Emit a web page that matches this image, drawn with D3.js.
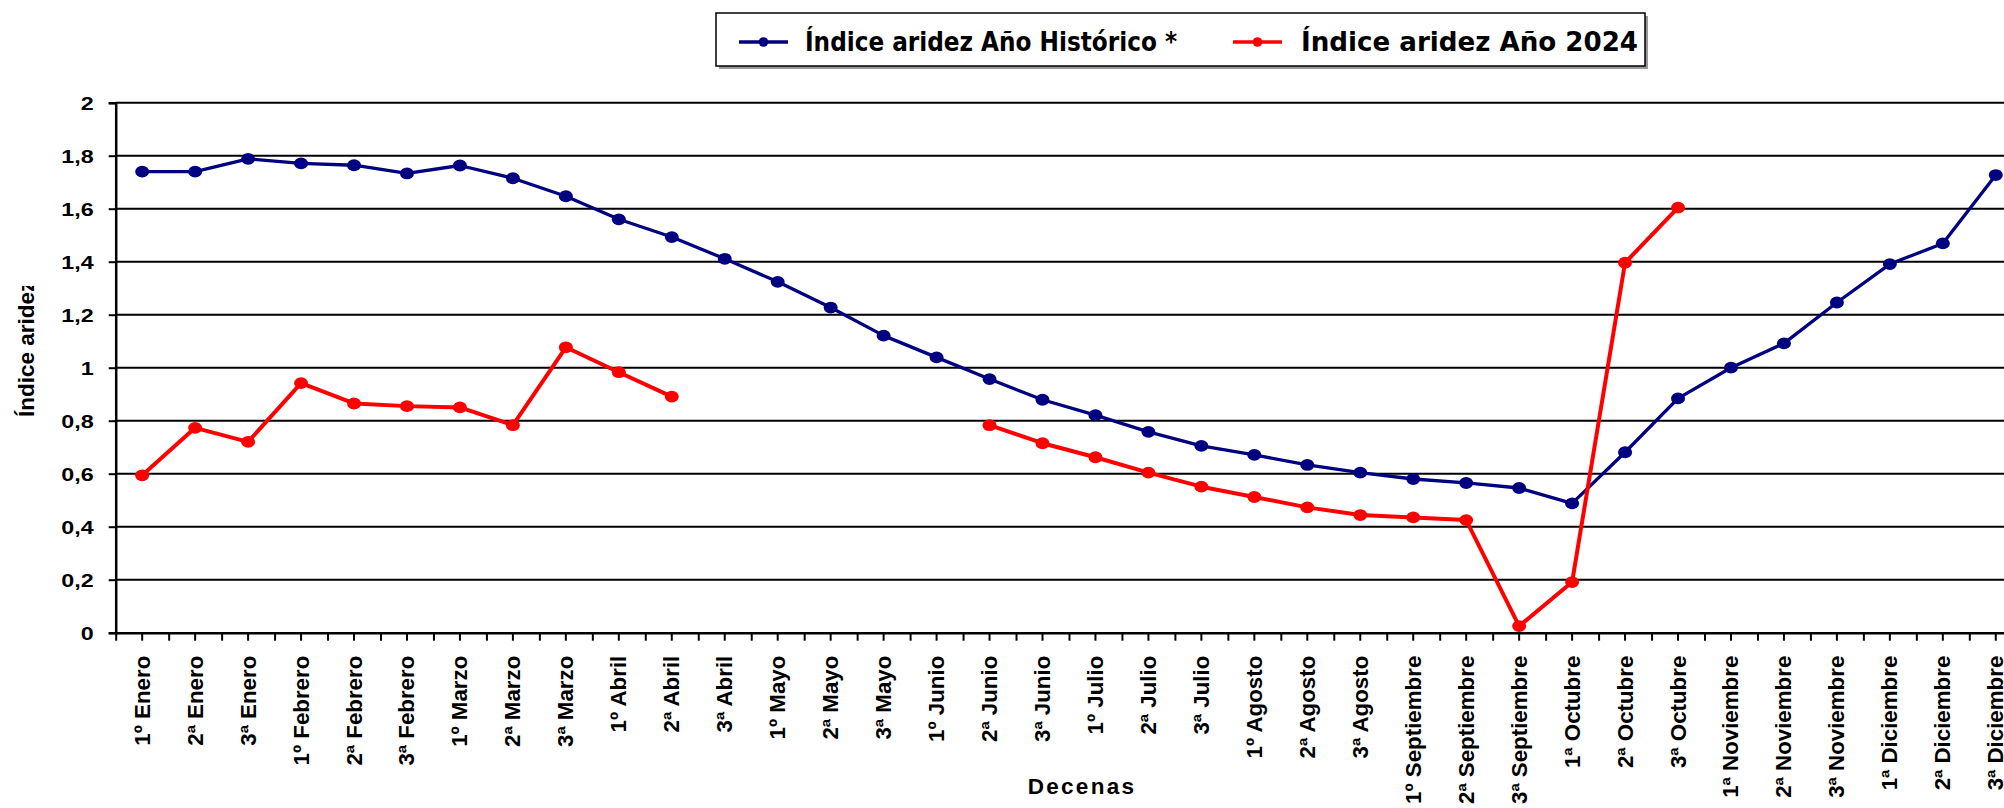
<!DOCTYPE html>
<html>
<head>
<meta charset="utf-8">
<script src="https://cdn.jsdelivr.net/npm/d3@7"></script>
<style>
  html, body { margin: 0; padding: 0; background: #fff; }
  svg { display: block; }
  text { font-family: "Liberation Sans", Arial, sans-serif; font-weight: bold; fill: #000; }
</style>
</head>
<body>
<svg id="chart" width="2004" height="808"></svg>
<script>
const categories = ["1º Enero","2ª Enero","3ª Enero","1º Febrero","2ª Febrero","3ª Febrero","1º Marzo","2ª Marzo","3ª Marzo","1º Abril","2ª Abril","3ª Abril","1º Mayo","2ª Mayo","3ª Mayo","1º Junio","2ª Junio","3ª Junio","1º Julio","2ª Julio","3ª Julio","1º Agosto","2ª Agosto","3ª Agosto","1º Septiembre","2ª Septiembre","3ª Septiembre","1ª Octubre","2ª Octubre","3ª Octubre","1ª Noviembre","2ª Noviembre","3ª Noviembre","1ª Diciembre","2ª Diciembre","3ª Diciembre"];

const historico = [1.740,1.740,1.788,1.771,1.764,1.733,1.763,1.715,1.647,1.560,1.493,1.411,1.324,1.227,1.121,1.039,0.957,0.879,0.821,0.758,0.705,0.671,0.633,0.604,0.580,0.565,0.546,0.488,0.681,0.884,1.000,1.092,1.246,1.391,1.469,1.727];

const anio2024 = [0.594,0.773,0.720,0.942,0.865,0.855,0.850,0.783,1.077,0.983,0.891,null,null,null,null,null,0.783,0.715,0.662,0.604,0.551,0.512,0.473,0.444,0.435,0.425,0.025,0.191,1.396,1.604,null,null,null,null,null,null];

const yTicks = [0,0.2,0.4,0.6,0.8,1,1.2,1.4,1.6,1.8,2];
const yTickLabels = ["0","0,2","0,4","0,6","0,8","1","1,2","1,4","1,6","1,8","2"];

const seriesNames = ["Índice aridez Año Histórico *", "Índice aridez Año 2024"];
const seriesColors = ["#000080", "#ff0000"];
const yTitle = "Índice aridez";
const xTitle = "Decenas";

(function () {
const svg = d3.select("#chart");
const pLeft = 115.7, pTop = 102.7, pBottom = 632.7, band = 52.96;
const pRight = pLeft + band * categories.length;
const SX = 1.24;

const x = d3.scaleBand().domain(categories).range([pLeft, pRight]).padding(0);
const y = d3.scaleLinear().domain([0, 2]).range([pBottom, pTop]);
const cx = d => x(d) + x.bandwidth() / 2;

// gridlines
svg.append("g").selectAll("line").data(yTicks.slice(1)).join("line")
  .attr("x1", pLeft).attr("x2", 2004)
  .attr("y1", d => y(d)).attr("y2", d => y(d))
  .attr("stroke", "#000").attr("stroke-width", 2);

// y axis
const yAxis = svg.append("g").attr("transform", `translate(${pLeft},0)`)
  .call(d3.axisLeft(y).tickValues(yTicks).tickSize(7).tickFormat((d, i) => yTickLabels[i]));
yAxis.select(".domain").attr("stroke", "#000").attr("stroke-width", 2.5);
yAxis.selectAll(".tick line").attr("stroke", "#000").attr("stroke-width", 2);
yAxis.selectAll(".tick text")
  .attr("x", null).attr("dy", null)
  .attr("font-size", 18.8)
  .attr("text-anchor", "end")
  .attr("dominant-baseline", "central")
  .attr("transform", "translate(-22,0) scale(" + SX + ",1)");

// x axis boundary ticks
const xb = d3.scaleLinear().domain([0, categories.length]).range([pLeft, pRight]);
const xBound = svg.append("g").attr("transform", `translate(0,${pBottom})`)
  .call(d3.axisBottom(xb).tickValues(d3.range(0, categories.length + 1)).tickSize(8).tickFormat(""));
xBound.select(".domain").remove();
xBound.selectAll(".tick line").attr("stroke", "#000").attr("stroke-width", 2);

// x axis with center ticks + labels
const xAxis = svg.append("g").attr("transform", `translate(0,${pBottom})`)
  .call(d3.axisBottom(x).tickSize(8).tickSizeOuter(0));
xAxis.select(".domain").attr("stroke", "#000").attr("stroke-width", 2.5);
xAxis.selectAll(".tick line").attr("stroke", "#000").attr("stroke-width", 2);
xAxis.selectAll(".tick text")
  .attr("y", null).attr("dy", null)
  .attr("font-size", 22.3)
  .attr("text-anchor", "end")
  .attr("dominant-baseline", "central")
  .attr("transform", "translate(0,23) rotate(-90)");

// lines
const line = d3.line().defined(d => d.v != null).x(d => cx(d.c)).y(d => y(d.v));
const allSeries = [historico, anio2024];
allSeries.forEach((vals, si) => {
  const data = categories.map((c, i) => ({c, v: vals[i]}));
  svg.append("path").datum(data)
    .attr("fill", "none").attr("stroke", seriesColors[si])
    .attr("stroke-width", si === 0 ? 3.3 : 4)
    .attr("stroke-linejoin", "round")
    .attr("d", line);
  svg.append("g").selectAll("ellipse").data(data.filter(d => d.v != null)).join("ellipse")
    .attr("cx", d => cx(d.c)).attr("cy", d => y(d.v))
    .attr("rx", 7).attr("ry", 5.9)
    .attr("fill", seriesColors[si]);
});

// axis titles
svg.append("defs").append("clipPath").attr("id", "ytclip")
  .append("rect").attr("x", 0).attr("y", 286).attr("width", 60).attr("height", 300);
svg.append("g").attr("clip-path", "url(#ytclip)")
  .append("text")
  .attr("font-size", 22.5)
  .attr("text-anchor", "start")
  .attr("dominant-baseline", "central")
  .attr("transform", "translate(26,417) rotate(-90)")
  .text(yTitle);

svg.append("text")
  .attr("font-size", 22.5)
  .attr("text-anchor", "middle")
  .attr("dominant-baseline", "central")
  .attr("letter-spacing", 2.3)
  .attr("transform", "translate(1082,786)")
  .text(xTitle);

// legend
const lg = svg.append("g");
lg.append("rect").attr("x", 719).attr("y", 16).attr("width", 929).attr("height", 53).attr("fill", "#999");
lg.append("rect").attr("x", 716).attr("y", 13).attr("width", 929).attr("height", 53)
  .attr("fill", "#fff").attr("stroke", "#000").attr("stroke-width", 1.5);
const legendItems = [
  {name: seriesNames[0], color: seriesColors[0], lx: 739, tx: 805, tw: 372},
  {name: seriesNames[1], color: seriesColors[1], lx: 1233, tx: 1301, tw: 337}
];
legendItems.forEach(it => {
  lg.append("line").attr("x1", it.lx).attr("x2", it.lx + 49).attr("y1", 42).attr("y2", 42)
    .attr("stroke", it.color).attr("stroke-width", 3.4);
  lg.append("circle").attr("cx", it.lx + 24.5).attr("cy", 42).attr("r", 4.8).attr("fill", it.color);
  lg.append("text").attr("x", it.tx).attr("y", 42)
    .attr("dominant-baseline", "central")
    .style("font-family", "'DejaVu Sans Condensed', 'DejaVu Sans', sans-serif")
    .style("font-stretch", "condensed")
    .attr("font-size", 26)
    .attr("textLength", it.tw).attr("lengthAdjust", "spacingAndGlyphs")
    .text(it.name);
});
})();
</script>
</body>
</html>
